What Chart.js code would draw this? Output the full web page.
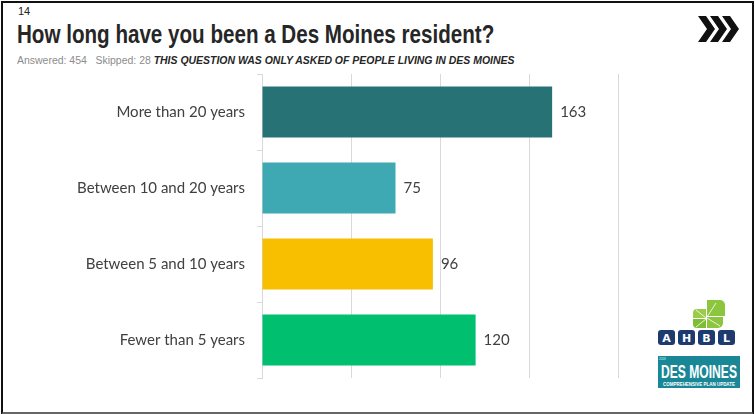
<!DOCTYPE html>
<html><head><meta charset="utf-8">
<script src="https://cdn.jsdelivr.net/npm/chart.js@4"></script>
<style>
html,body{margin:0;padding:0;background:#fff;}
#page{position:relative;width:755px;height:414px;overflow:hidden;background:#fff;font-family:"Liberation Sans",Arial,sans-serif;}
#frame{position:absolute;left:1px;top:1px;width:749px;height:409px;border:2px solid #111;border-bottom-color:#666;border-bottom-width:3px;box-sizing:content-box;}
.fit{position:absolute;white-space:nowrap;transform-origin:0 0;}
#num{left:18px;top:5px;font-size:11px;color:#222;}
#title{left:17px;top:20px;font-size:25px;font-weight:bold;color:#262626;}
#sub{left:17px;top:55px;font-size:10px;color:#8c8c8c;}
#sub b{color:#262626;font-style:italic;}
#wrap{position:absolute;left:0;top:53px;width:624px;height:346px;}
</style></head>
<body><div id="page">
<div id="frame"></div>
<div class="fit" id="num">14</div>
<div class="fit" id="title" data-w="477">How long have you been a Des Moines resident?</div>
<div class="fit" id="sub" data-w="498">Answered: 454&nbsp;&nbsp; Skipped: 28 <b>THIS QUESTION WAS ONLY ASKED OF PEOPLE LIVING IN DES MOINES</b></div>
<svg style="position:absolute;left:698px;top:16px" width="42" height="26" viewBox="0 0 42 26">
<g fill="#111">
<polygon points="0,0 8,0 17,13 8,26 0,26 9,13"/>
<polygon points="12,0 20,0 29,13 20,26 12,26 21,13"/>
<polygon points="24,0 32,0 41,13 32,26 24,26 33,13"/>
</g></svg>
<svg style="position:absolute;left:656px;top:298px" width="86" height="94" viewBox="0 0 86 94">
<g fill="#8cc63f">
<path d="M37 11 h13 v9 h-13 v-5 a4 4 0 0 1 4 -4z" fill="#9ccb4a"/>
<path d="M51 2 h13 a5 5 0 0 1 5 5 v11 h-18z" fill="#8cc63f"/>
<path d="M37 21 h13 v9 h-9 a4 4 0 0 1 -4 -4z" fill="#7fbd36"/>
<path d="M51 19 h16 v6 a5 5 0 0 1 -5 5 h-11z" fill="#8cc63f"/>
</g>
<g stroke="#fff" stroke-width="0.8">
<line x1="40" y1="12" x2="50" y2="20"/><line x1="60" y1="5" x2="51" y2="19"/>
<line x1="40" y1="29" x2="50" y2="21"/><line x1="64" y1="28" x2="51" y2="20"/>
</g>
<g fill="#1d3b6f">
<rect x="2" y="32" width="17" height="15" rx="3"/>
<rect x="22" y="32" width="17" height="15" rx="3"/>
<rect x="42" y="32" width="17" height="15" rx="3"/>
<rect x="62" y="32" width="17" height="15" rx="3"/>
</g>
<g fill="#fff" font-family="DejaVu Sans" font-weight="bold" font-size="11" text-anchor="middle">
<text x="10.5" y="44">A</text><text x="30.5" y="44">H</text><text x="50.5" y="44">B</text><text x="70.5" y="44">L</text>
</g>
<rect x="2" y="58" width="82" height="32" fill="#1a8797"/>
<text x="3" y="62" fill="#cfe" font-family="Liberation Sans" font-size="3">2018</text>
<text x="43" y="80" fill="#fff" font-family="Liberation Sans Narrow,Liberation Sans" font-weight="bold" font-size="19" text-anchor="middle" textLength="76" lengthAdjust="spacingAndGlyphs">DES MOINES</text>
<text x="43" y="87.5" fill="#fff" font-family="Liberation Sans" font-weight="bold" font-size="5" text-anchor="middle" textLength="72" lengthAdjust="spacingAndGlyphs">COMPREHENSIVE PLAN UPDATE</text>
</svg>
<div id="wrap"><canvas id="c"></canvas></div>
</div>
<script>
const categories = ["More than 20 years","Between 10 and 20 years","Between 5 and 10 years","Fewer than 5 years"];
const values = [163, 75, 96, 120];
const barColors = ["#277275","#3fa9b3","#f8bf00","#00bf6f"];
const axisMax = 200;
const axisStep = 50;

document.querySelectorAll('.fit[data-w]').forEach(el=>{
  const w = el.scrollWidth; const t = +el.dataset.w;
  el.style.transform = 'scaleX(' + (t/w) + ')';
});

const labelFont = {family:"Lato, 'Open Sans', sans-serif", size:15};
const valueLabels = {
  id:'valueLabels',
  afterDatasetsDraw(chart){
    const ctx = chart.ctx;
    const meta = chart.getDatasetMeta(0);
    ctx.save();
    ctx.font = "15px Lato, 'Open Sans', sans-serif";
    ctx.fillStyle = "#404040";
    ctx.textBaseline = "middle";
    ctx.textAlign = "left";
    meta.data.forEach((bar,i)=>{
      ctx.fillText(String(values[i]), bar.x + 8, bar.y);
    });
    ctx.restore();
  }
};

new Chart(document.getElementById('c'), {
  type:'bar',
  data:{labels:categories, datasets:[{data:values, backgroundColor:barColors, barPercentage:0.67, categoryPercentage:1.0}]},
  options:{
    indexAxis:'y', responsive:true, maintainAspectRatio:false, animation:false,
    layout:{padding:{top:5,right:6,bottom:0,left:0}},
    plugins:{legend:{display:false}, tooltip:{enabled:false}},
    scales:{
      x:{min:0,max:axisMax,ticks:{display:false,stepSize:axisStep},
         grid:{color:"#d9d9d9",drawTicks:false,lineWidth:1}, border:{display:false}},
      y:{ticks:{color:"#404040",font:labelFont,padding:12},
         grid:{drawOnChartArea:false,drawTicks:true,tickLength:5,color:"#d9d9d9",offset:true},
         border:{display:true,color:"#d9d9d9"},
         afterFit(s){ s.width = 262; }}
    }
  },
  plugins:[valueLabels]
});
</script>
</body></html>
